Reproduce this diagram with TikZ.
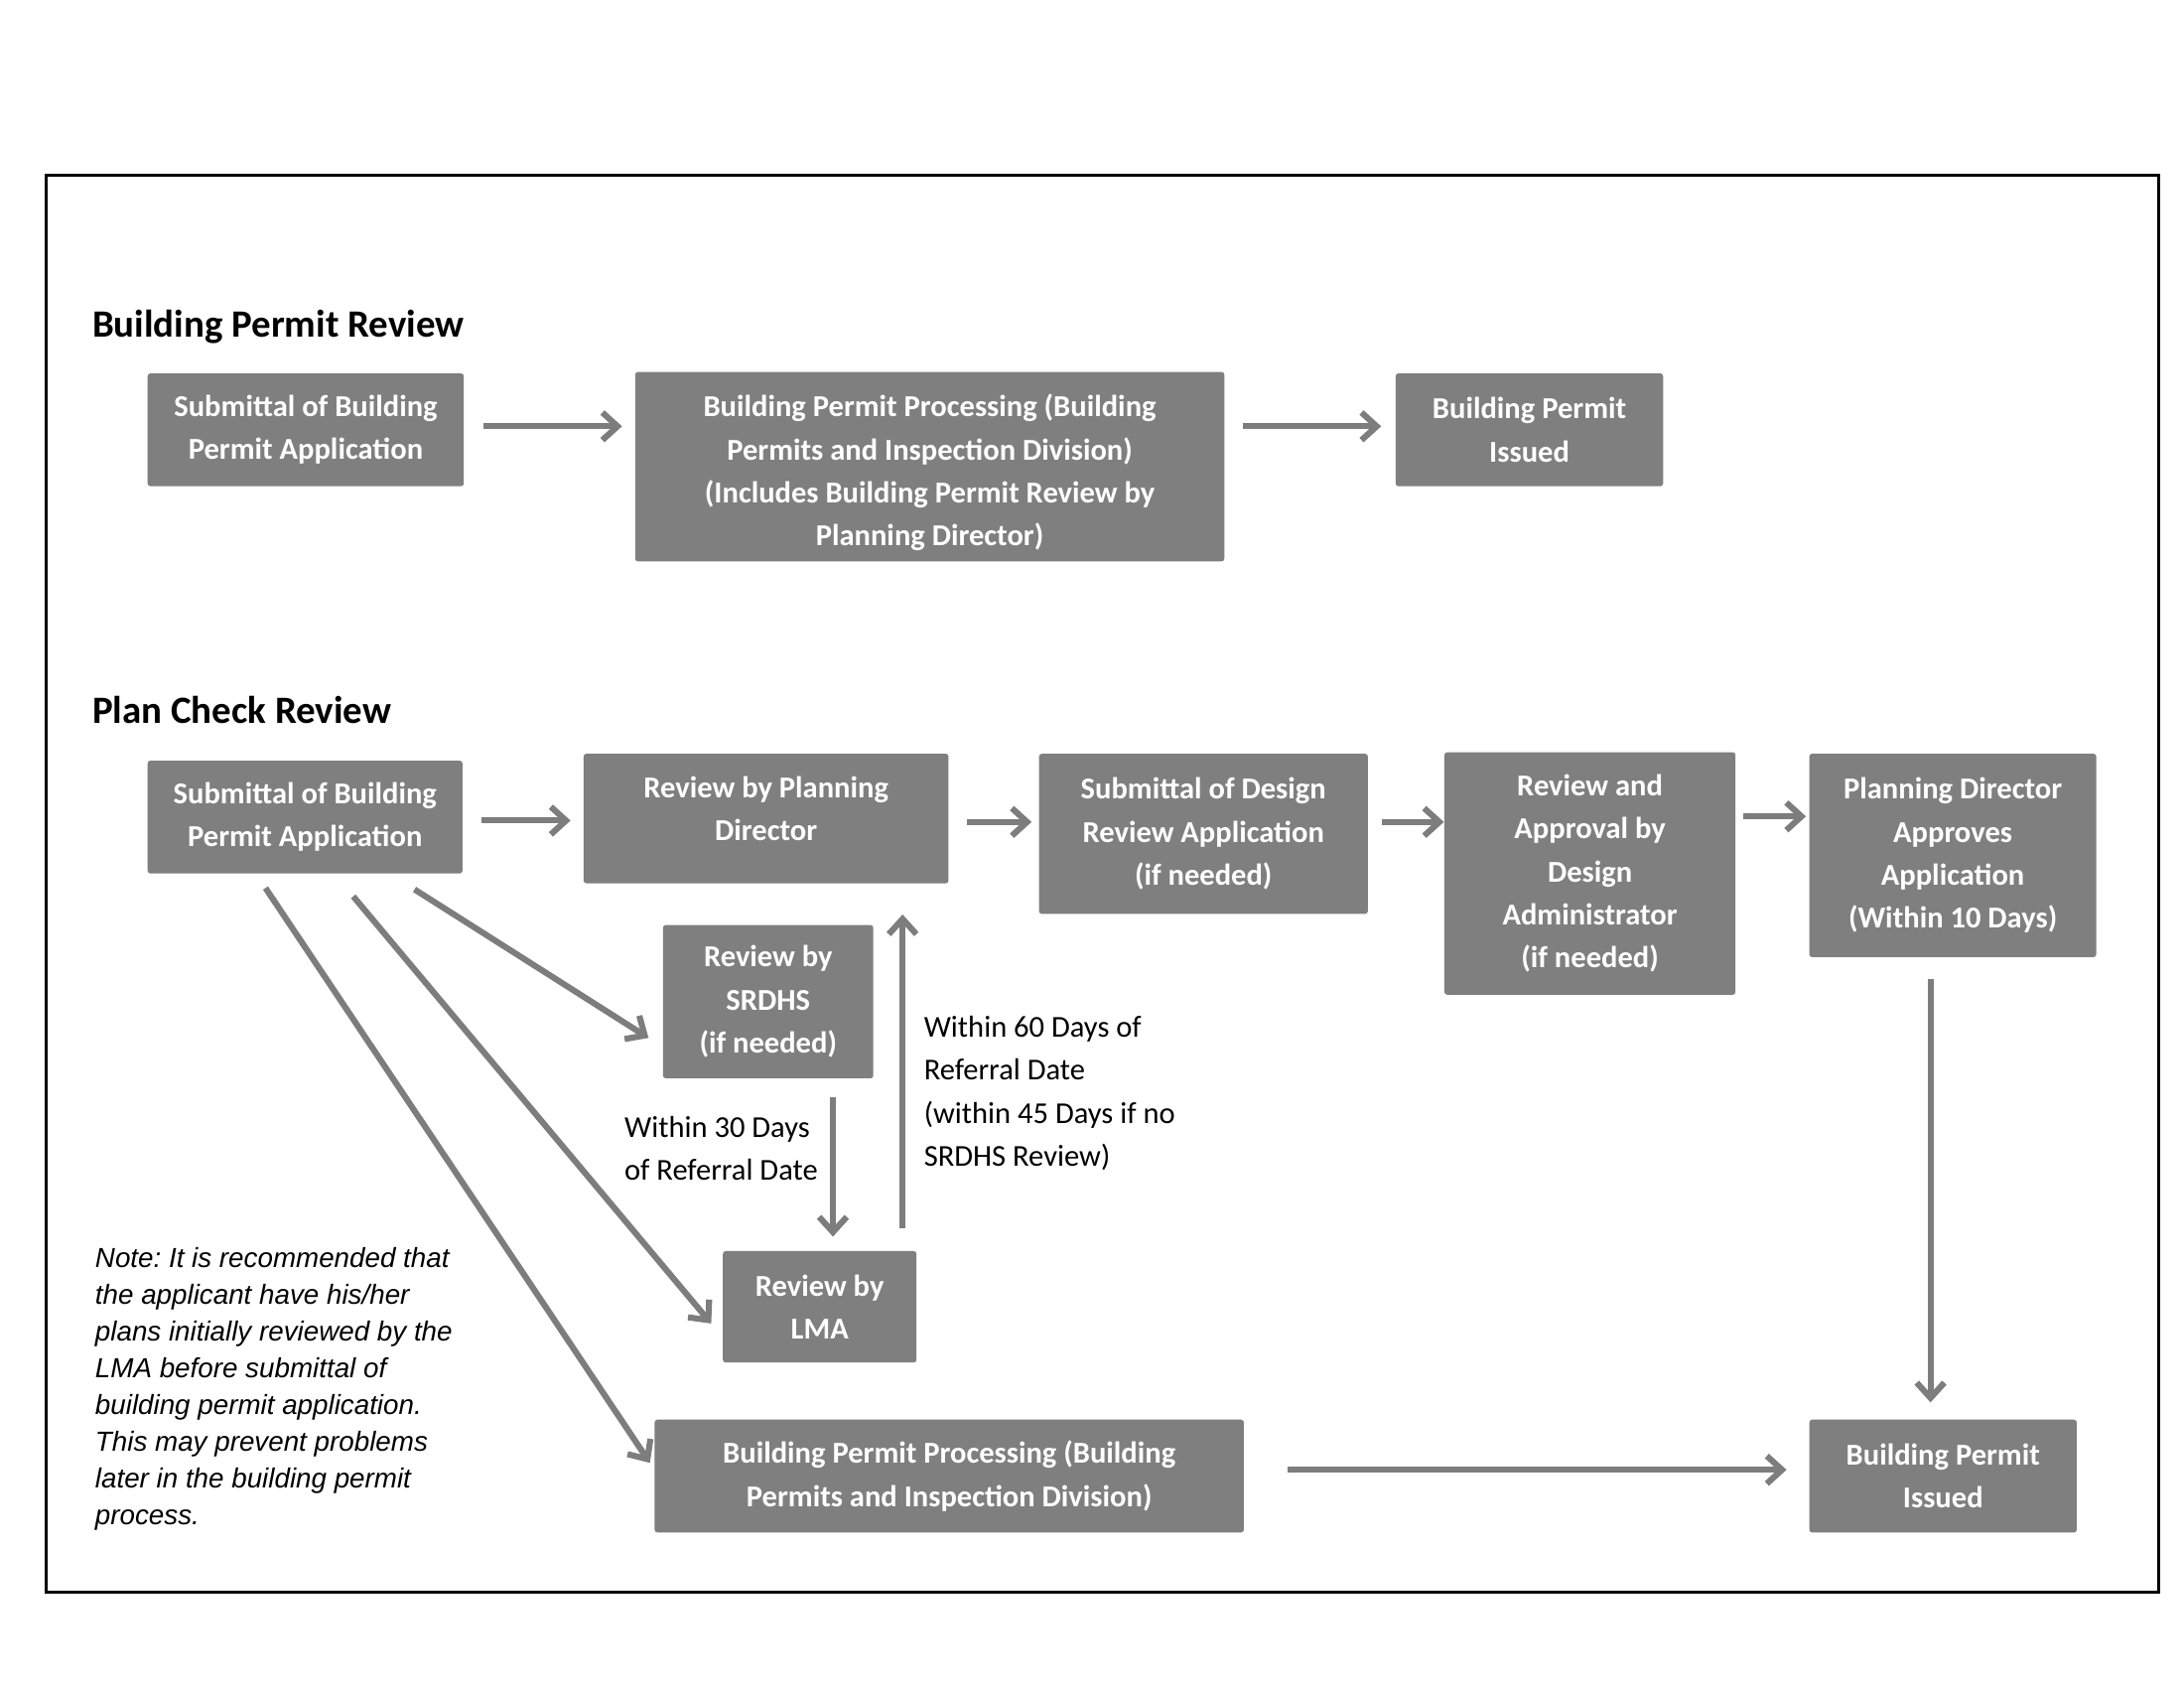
\documentclass[tikz,border=0pt]{standalone}
\usepackage{fontspec}
\setmainfont{Carlito}
\newfontfamily\notefont{Liberation Sans}
\usetikzlibrary{arrows.meta,calc}
\frenchspacing
\definecolor{boxgray}{RGB}{127,127,127}
\definecolor{arrgray}{RGB}{125,125,125}
\tikzset{
  box/.style={fill=boxgray, draw=none, rounded corners=1pt, text=white, align=center, inner sep=0pt,
    font=\fontsize{11}{15.6}\selectfont\bfseries},
  arr/.style={draw=arrgray, line width=2.2pt, -{Straight Barb[length=5.5pt,width=10pt]}},
  heading/.style={font=\fontsize{14}{16}\selectfont\bfseries, anchor=base west, inner sep=0pt},
  lbl/.style={font=\fontsize{11}{15.6}\selectfont, align=left, anchor=north west, inner sep=0pt},
  notestyle/.style={font=\notefont\itshape\fontsize{10}{13.3}\selectfont, align=left, anchor=north west, inner sep=0pt}
}
\newcommand\bx[6]{%
  \node[box, minimum width={(#4-#2)*0.5051pt}, minimum height={(#5-#3)*0.5051pt}] (#1) at ({(#2+#4)/2},{(#3+#5)/2}) {#6};}
\begin{document}
\begin{tikzpicture}[x=0.5051pt,y=-0.5051pt]
\useasboundingbox[fill=white] (0,0) rectangle (1568,1212.4);
\draw[line width=1.1pt] (33,126) rectangle (1550,1143);

\node[heading] (h1) at (66,242) {Building Permit Review};
\node[heading] (h2) at (66,519) {Plan Check Review};

% top row
\bx{B1}{106}{268}{333}{349}{Submittal of Building\\Permit Application}
\bx{B2}{456}{267}{879}{403}{\rule{0pt}{12.5pt}Building Permit Processing (Building\\Permits and Inspection Division)\\(Includes Building Permit Review by\\Planning Director)}
\bx{B3}{1002}{268}{1194}{349}{Building Permit\\Issued}

\draw[arr] ($(B1.east)+(14,-2.5)$) -- ($(B2.west)+(-9,-29)$);
\draw[arr] ($(B2.east)+(13,-29)$) -- ($(B3.west)+(-10,-2.5)$);

% plan check
\bx{C1}{106}{546}{332}{627}{Submittal of Building\\Permit Application}
\bx{C2}{419}{541}{681}{634}{Review by Planning\\Director\rule[-7pt]{0pt}{0pt}}
\bx{C3}{746}{541}{982}{656}{Submittal of Design\\Review Application\\(if needed)}
\bx{C4}{1037}{540}{1246}{714}{Review and\\Approval by\\Design\\Administrator\\(if needed)}
\bx{C5}{1299}{541}{1505}{687}{Planning Director\\Approves\\Application\\(Within 10 Days)}
\bx{SR}{476}{664}{627}{774}{Review by\\SRDHS\\(if needed)}
\bx{LMA}{519}{898}{658}{978}{Review by\\LMA}
\bx{BPP}{470}{1019}{893}{1100}{Building Permit Processing (Building\\Permits and Inspection Division)}
\bx{BPI}{1299}{1019}{1491}{1100}{Building Permit\\Issued}

\draw[arr] ($(C1.east)+(13,2.5)$) -- ($(C2.west)+(-9,1.5)$);
\draw[arr] ($(C2.east)+(13,2.5)$) -- ($(C3.west)+(-5,-8.5)$);
\draw[arr] ($(C3.east)+(10,-8.5)$) -- ($(C4.west)+(0,-37)$);
\draw[arr] ($(C4.east)+(5,-41)$) -- ($(C5.west)+(-2,-28)$);
\draw[arr] ($(C5.south)+(-16,15)$) -- ($(BPI.north)+(-9,-12)$);
\draw[arr] ($(BPP.east)+(31,-4.5)$) -- ($(BPI.west)+(-16,-4.5)$);

\draw[arr] ($(C1.south west)+(192,11)$) -- ($(SR.west)+(-10,26)$);
\draw[arr] ($(C1.south west)+(148,16)$) -- ($(LMA.west)+(-8,12)$);
\draw[arr] ($(C1.south west)+(85,10)$) -- ($(BPP.west)+(-3,-9.5)$);
\draw[arr] ($(SR.south)+(46.5,13)$) -- ($(LMA.north)+(9.5,-10)$);
\draw[arr] ($(LMA.north)+(59.5,-16)$) -- ($(C2.south)+(98,22)$);

\node[lbl] (l30) at (448,801) {Within 30 Days\\of Referral Date};
\node[lbl] (l60) at (663,729) {Within 60 Days of\\Referral Date\\(within 45 Days if no\\SRDHS Review)};

\node[notestyle] (note) at (68,895) {Note: It is recommended that\\the applicant have his/her\\plans initially reviewed by the\\LMA before submittal of\\building permit application.\\This may prevent problems\\later in the building permit\\process.};
\end{tikzpicture}
\end{document}
